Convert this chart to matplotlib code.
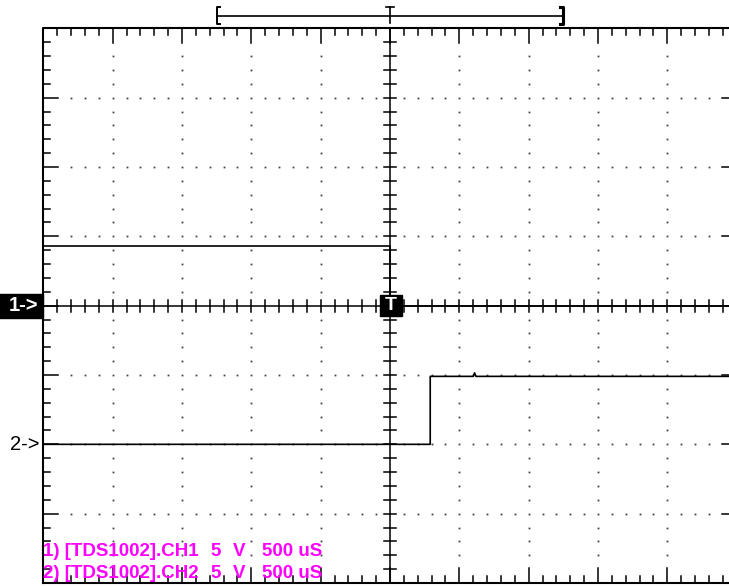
import matplotlib
matplotlib.use("Agg")
import matplotlib.pyplot as plt
from matplotlib.patches import Rectangle
import numpy as np

# ---- data ----
time_per_div_us = 500.0
volts_per_div = 5.0
ch1_time_us = [-2500, 0, 0, 2500]
ch1_volts = [4.3, 4.3, 0.0, 0.0]
ch2_time_us = [-2500, 290, 290, 600, 610, 620, 2500]
ch2_volts = [0.0, 0.0, 4.9, 4.9, 5.15, 4.9, 4.9]
ch1_offset_div = 0.0
ch2_offset_div = -2.0
legend_names = ["1) [TDS1002].CH1", "2) [TDS1002].CH2"]
legend_scale = ["5", "5"]
legend_unit = ["V", "V"]
legend_time = ["500 uS", "500 uS"]

plt.rcParams['font.family'] = ['Liberation Sans', 'DejaVu Sans']

W, H = 729, 586
fig = plt.figure(figsize=(W / 100, H / 100), dpi=100)
left_px, top_px, right_px, bot_px = 43.3, 28.3, 736.7, 583.0
ax = fig.add_axes([left_px / W, 1 - bot_px / H, (right_px - left_px) / W, (bot_px - top_px) / H])
ax.set_xlim(-5, 5)
ax.set_ylim(-4, 4)
ax.axis('off')
px = 10.0 / (right_px - left_px)  # one pixel in divisions

K = 'black'
lw_border = 1.5
lw_tick = 1.1

# border
ax.plot([-5, 5, 5, -5, -5], [-4, -4, 4, 4, -4], color=K, lw=lw_border, clip_on=False)

# border ticks
minor_x = np.round(np.arange(-5, 5.001, 0.2), 3)
minor_y = np.round(np.arange(-4, 4.001, 0.2), 3)
for x in minor_x:
    if abs(x) == 5.0:
        continue
    L = 15 * px if abs(x - round(x)) < 1e-6 else 7 * px
    ax.plot([x, x], [4, 4 - L], color=K, lw=lw_tick, clip_on=False)
    ax.plot([x, x], [-4, -4 + L], color=K, lw=lw_tick, clip_on=False)
for y in minor_y:
    if abs(y) == 4.0:
        continue
    L = 15 * px if abs(y - round(y)) < 1e-6 else 7 * px
    ax.plot([-5, -5 + L], [y, y], color=K, lw=lw_tick, clip_on=False)
    ax.plot([5, 5 - L], [y, y], color=K, lw=lw_tick, clip_on=False)

# centre cross with ticks
ax.plot([-5, 5], [0, 0], color=K, lw=1.1, clip_on=False)
ax.plot([0, 0], [-4, 4], color=K, lw=1.1, clip_on=False)
for x in minor_x:
    if abs(x) == 5.0 or x == 0:
        continue
    ax.plot([x, x], [-6 * px, 6 * px], color=K, lw=lw_tick)
for y in minor_y:
    if abs(y) == 4.0 or y == 0:
        continue
    ax.plot([-6 * px, 6 * px], [y, y], color=K, lw=lw_tick)

# dotted grid
dx, dy = [], []
for gx in range(-4, 5):
    if gx == 0:
        continue
    for y in minor_y:
        if abs(y) < 3.8 and y != 0:
            dx.append(gx); dy.append(y)
for gy in range(-3, 4):
    if gy == 0:
        continue
    for x in minor_x:
        if abs(x) < 4.8 and abs(x - round(x)) > 1e-6:
            dx.append(x); dy.append(gy)
ax.plot(dx, dy, linestyle='none', marker='s', ms=1.3, mew=0, color='#444444')

# traces
t1 = np.array(ch1_time_us) / time_per_div_us
v1 = ch1_offset_div + np.array(ch1_volts) / volts_per_div
t2 = np.array(ch2_time_us) / time_per_div_us
v2 = ch2_offset_div + np.array(ch2_volts) / volts_per_div
ax.plot(t1, v1, color=K, lw=1.2, clip_on=False)
ax.plot(t2, v2, color=K, lw=1.2, clip_on=False)

# trigger marker
ax.add_patch(Rectangle((-10 * px, -10.5 * px), 21.5 * px, 21.5 * px, color=K, zorder=5))
ax.text(0.8 * px, 0, "T", color='white', fontsize=14, fontweight='bold',
        ha='center', va='center', zorder=6)

# channel markers
ax.add_patch(Rectangle((-5 - 44 * px, -12.5 * px), 44 * px, 24 * px, color=K, clip_on=False, zorder=5))
ax.text(-5 - 5 * px, 0, "1->", color='white', fontsize=14.5, fontweight='bold',
        ha='right', va='center', zorder=6, clip_on=False)
ax.text(-5 - 4 * px, ch2_offset_div, "2->", color=K, fontsize=14.5,
        ha='right', va='center', clip_on=False)

# record window bracket at top
yb = 4 + (top_px - 15.7) * px
h = 8.3 * px
ax.plot([-2.5, 2.5], [yb, yb], color=K, lw=1.2, clip_on=False)
ax.plot([-2.5 + 3 * px, -2.5, -2.5, -2.5 + 3 * px], [yb + h, yb + h, yb - h, yb - h], color=K, lw=1.4, clip_on=False)
ax.plot([2.5 - 3 * px, 2.5, 2.5, 2.5 - 3 * px], [yb + h, yb + h, yb - h, yb - h], color=K, lw=2.2, clip_on=False)
ax.plot([0, 0], [yb + h, yb - h + 1 * px], color=K, lw=1.2, clip_on=False)
ax.plot([-4 * px, 4 * px], [yb + h, yb + h], color=K, lw=1.2, clip_on=False)

# channel legend text
for i in range(len(legend_names)):
    ypx = 556.5 + 21 * i
    yy = 1 - ypx / H
    kw = dict(color='#ff00ff', fontsize=13.5, fontweight='bold', ha='left', va='baseline')
    fig.text(43 / W, yy, legend_names[i], **kw)
    fig.text(210 / W, yy, legend_scale[i], **kw)
    fig.text(233 / W, yy, legend_unit[i], **kw)
    fig.text(262 / W, yy, legend_time[i], **kw)

fig.savefig("out.png", dpi=100)
